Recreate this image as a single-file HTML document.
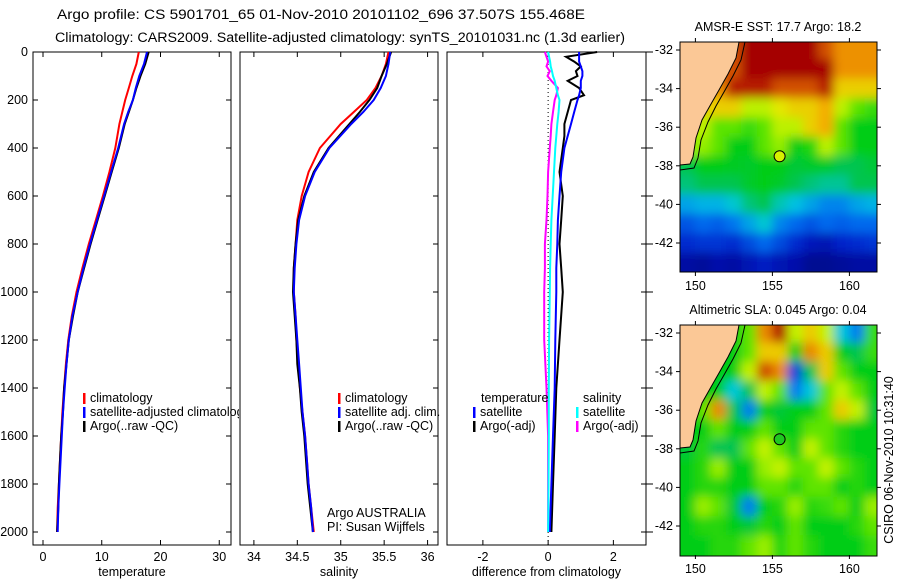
<!DOCTYPE html>
<html><head><meta charset="utf-8"><style>
body{margin:0;background:#fff;}
svg{display:block;font-family:"Liberation Sans",sans-serif;}
</style></head><body>
<svg id="c" width="900" height="580" viewBox="0 0 900 580" xmlns="http://www.w3.org/2000/svg">
<defs>
<clipPath id="m1c"><rect x="680" y="42" width="197" height="230"/></clipPath>
<clipPath id="m2c"><rect x="680" y="325" width="197" height="231"/></clipPath>
<clipPath id="p1c"><rect x="0" y="0" width="239" height="580"/></clipPath>
<filter id="bl" x="-5%" y="-5%" width="110%" height="110%"><feGaussianBlur stdDeviation="5"/></filter>
</defs>
<text x="321" y="19" text-anchor="middle" font-size="13.5" textLength="528" lengthAdjust="spacingAndGlyphs">Argo profile: CS 5901701_65 01-Nov-2010 20101102_696 37.507S 155.468E</text>
<text x="340" y="42" text-anchor="middle" font-size="13.5" textLength="570" lengthAdjust="spacingAndGlyphs">Climatology: CARS2009. Satellite-adjusted climatology: synTS_20101031.nc (1.3d earlier)</text>
<g id="g"></g>
</svg>
<script>
// ---- profile data ----
const pres = [0,50,100,150,200,250,300,400,500,600,700,800,900,1000,1100,1200,1300,1400,1500,1600,1700,1800,1900,2000];
const tempClim = [16.3,15.9,15.2,14.6,14.0,13.5,13.0,12.3,11.3,10.2,9.0,7.8,6.7,5.7,4.9,4.3,3.9,3.6,3.3,3.1,2.9,2.7,2.5,2.4];
const tempSat  = [17.7,17.2,16.4,15.8,15.3,14.5,13.8,12.8,11.6,10.4,9.2,8.0,6.9,5.9,5.0,4.4,4.0,3.7,3.4,3.2,3.0,2.8,2.6,2.5];
const tempArgo = [18.0,17.4,16.6,15.9,15.3,14.6,13.9,12.9,11.7,10.5,9.3,8.1,7.0,5.9,5.1,4.4,4.0,3.6,3.4,3.1,2.9,2.7,2.6,2.4];
const salClim = [35.55,35.52,35.47,35.40,35.30,35.15,35.0,34.76,34.63,34.55,34.50,34.48,34.46,34.46,34.48,34.49,34.51,34.53,34.56,34.59,34.61,34.63,34.66,34.69];
const salSat  = [35.57,35.55,35.52,35.46,35.38,35.26,35.12,34.87,34.70,34.59,34.52,34.49,34.47,34.46,34.48,34.50,34.52,34.54,34.56,34.59,34.61,34.63,34.66,34.68];
const salArgo = [35.58,35.53,35.47,35.42,35.33,35.22,35.10,34.86,34.69,34.58,34.51,34.48,34.46,34.45,34.47,34.49,34.50,34.53,34.55,34.58,34.60,34.62,34.65,34.68];
const dPres = [0,20,40,60,80,100,120,150,180,200,250,300,350,400,500,600,700,800,900,1000,1200,1400,1600,1800,2000];
const diffTSat  = [0.95,0.95,0.95,1.0,1.05,1.05,1.0,1.0,0.95,0.9,0.8,0.7,0.6,0.5,0.4,0.35,0.3,0.28,0.25,0.25,0.22,0.2,0.15,0.1,0.05];
const diffTArgo = [1.5,0.55,0.8,1.0,0.85,0.9,0.6,0.95,1.1,0.7,0.6,0.5,0.5,0.45,0.35,0.45,0.4,0.35,0.4,0.45,0.35,0.25,0.2,0.15,0.1];
const diffSSat  = [0,0.03,0.06,0.08,0.12,0.15,0.2,0.25,0.3,0.35,0.32,0.28,0.25,0.22,0.18,0.14,0.1,0.08,0.06,0.05,0.03,0.02,0.02,0.01,0.0];
const diffSArgo = [-0.1,-0.05,0.0,-0.05,0.05,-0.02,0.1,0.3,0.25,0.2,0.15,0.1,0.08,0.05,0.0,-0.02,-0.05,-0.1,-0.1,-0.12,-0.12,-0.05,0.0,0.0,0.0];
const presTicks = [0,200,400,600,800,1000,1200,1400,1600,1800,2000];
const tempTicks = [0,10,20,30];
const salTicks = [34,34.5,35,35.5,36];
const salTickLabels = ["34","34.5","35","35.5","36"];
const diffTicks = [-2,0,2];
// ---- map data (rows lat -32..-43, cols lon 149.5..161.5) ----
const sstGrid = [
[19,19,19,19,20,20,20,20,20,19,18.5,18.5,18.5],
[19,19,19,19,20,20,20,20,20,20,18.5,18.5,18.5],
[18.5,18.5,18.5,19.5,19.5,19.5,19,19,19,19.5,18,18,18],
[18,18,18,18,17.5,17.5,17.8,18,18,18.3,17.5,17,16.8],
[17.5,17.5,17,17,16.8,17,17.5,17.5,18,18.3,17,16.5,16.5],
[17.3,17.3,17,16.5,16.5,17,17.3,16.5,16.7,17.5,17,16.5,16.5],
[16,16.5,16.5,16.4,16.3,16.5,16.5,16.2,16.3,16.3,16,16,16.2],
[15.8,16,16,16,16.3,16.5,16.3,16,15.8,15.7,15.7,16,16],
[15.2,15.3,15.3,15.5,15.8,16,15.6,15.4,15.2,15,15,15.2,15.3],
[14.6,14.8,14.7,14.9,15.2,15.5,15,14.8,14.6,14.8,14.7,14.8,14.8],
[14.2,14.3,14.3,14.2,14.5,14.8,14.5,14.2,13.9,13.8,14.1,14.2,14.3],
[13.6,13.5,13.7,13.6,13.8,14,13.8,13.7,13.4,13.4,13.5,13.6,13.6]];
const slaGrid = [
[0,0,0,0,0.05,0.2,0.3,0.1,0.15,0.1,-0.1,-0.15,0.03],
[0,0,0,0,0.05,0.15,0.15,0.0,0.2,0.15,0,-0.05,0.03],
[0,0,0,0,0.1,0.25,0.2,-0.2,-0.05,0.15,0.05,0,0],
[0,0,0,-0.1,-0.05,0.1,0.05,-0.15,-0.1,0.05,0.1,0.05,0],
[0,0.05,0.2,-0.05,-0.15,0,-0.03,0,0,0.05,0.15,0.1,-0.03],
[0,0,0.05,0,0,0.05,0,0,0.05,0.05,0.02,0,0],
[-0.03,0.02,-0.05,-0.05,0.05,0.1,0.05,0,0.1,0.05,0.02,0,0],
[0,0.02,0.08,0,0,0.08,0.1,0.05,0.05,0.1,0.05,0.02,0],
[0,0.02,0.02,0,0,0.05,0.05,0.02,0.05,0.05,0,0.02,0],
[0,0.08,0.05,-0.03,-0.15,0,0.02,0.08,0.02,0.03,0.05,0,0.08],
[0,0.02,0.02,0,-0.03,0.02,0,0.05,0,0,0,0.02,0.05],
[0,0,0.02,0.02,0.05,0.08,0.02,0.05,0.02,0,0,0,0.03]];
const mapLats = [-32,-34,-36,-38,-40,-42];
const mapLons = [150,155,160];
const argoLon = 155.468, argoLat = -37.507;

const NS="http://www.w3.org/2000/svg";
const G=document.getElementById('g');
function el(t,a,p){const e=document.createElementNS(NS,t);for(const k in a)e.setAttribute(k,a[k]);(p||G).appendChild(e);return e;}
function txt(x,y,s,a,p){const e=el('text',Object.assign({x:x,y:y,'font-size':12.5},a||{}),p);e.textContent=s;return e;}
const yP=p=>52+p*0.24;
const panels=[{x0:33,x1:231,lo:-1.7,hi:32},{x0:240,x1:438,lo:33.84,hi:36.12},{x0:447,x1:646,lo:-3.1,hi:3.0}];
function xf(i,v){const q=panels[i];return q.x0+(v-q.lo)/(q.hi-q.lo)*(q.x1-q.x0);}
const names=['temperature-panel','salinity-panel','difference-panel'];
panels.forEach((q,i)=>{
  const r=el('rect',{x:q.x0,y:52,width:q.x1-q.x0,height:493,fill:'#fff',stroke:'#000','stroke-width':1});
  
  
  presTicks.forEach(p=>{el('line',{x1:q.x1,x2:q.x1-5,y1:yP(p),y2:yP(p),stroke:'#000'});});
});
presTicks.forEach(p=>{
  const t=txt(28,yP(p)+4,String(p),{'text-anchor':'end'});
  
  
  el('line',{x1:33,x2:38,y1:yP(p),y2:yP(p),stroke:'#000'});
  el('line',{x1:646,x2:653,y1:yP(p),y2:yP(p),stroke:'#000'});
});
function xticks(i,vals,labs){vals.forEach((v,k)=>{const x=xf(i,v);
  el('line',{x1:x,x2:x,y1:545,y2:540,stroke:'#000'});el('line',{x1:x,x2:x,y1:52,y2:57,stroke:'#000'});
  const t=txt(x,561,labs?labs[k]:String(v),{'text-anchor':'middle'});
  
  });}
xticks(0,tempTicks);xticks(1,salTicks,salTickLabels);xticks(2,diffTicks);
[['temperature',0],['salinity',1],['difference from climatology',2]].forEach(([s,i])=>{
  const t=txt((panels[i].x0+panels[i].x1)/2,576,s,{'text-anchor':'middle'});
  
  });
function line(i,P,V,col,w,name){
  const d=P.map((p,k)=>(k?'L':'M')+xf(i,V[k]).toFixed(1)+','+yP(p).toFixed(1)).join('');
  const e=el('path',{d:d,fill:'none',stroke:col,'stroke-width':w});
  
  }
el('line',{x1:xf(2,0),x2:xf(2,0),y1:52,y2:545,stroke:'#000','stroke-dasharray':'1 3'});
line(0,pres,tempClim,'#f00',2,'temp-climatology-line');
line(0,pres,tempArgo,'#000',2,'temp-argo-line');
line(0,pres,tempSat,'#00f',2,'temp-satellite-line');
line(1,pres,salClim,'#f00',2,'sal-climatology-line');
line(1,pres,salArgo,'#000',2,'sal-argo-line');
line(1,pres,salSat,'#00f',2,'sal-satellite-line');
line(2,dPres,diffTArgo,'#000',2,'diff-temp-argo-line');
line(2,dPres,diffTSat,'#00f',2,'diff-temp-satellite-line');
line(2,dPres,diffSArgo,'#f0f',2,'diff-sal-argo-line');
line(2,dPres,diffSSat,'#0ff',2,'diff-sal-satellite-line');
const p1g=el('g',{'clip-path':'url(#p1c)'});
function leg(x,y,col,s,par){el('rect',{x:x,y:y-9,width:2.5,height:11,fill:col},par);
  const t=txt(x+7,y,s,{},par);}
leg(83,402,'#f00','climatology',p1g);leg(83,416,'#00f','satellite-adjusted climatology',p1g);leg(83,430,'#000','Argo(..raw -QC)',p1g);
leg(338,402,'#f00','climatology');leg(338,416,'#00f','satellite adj. clim.');leg(338,430,'#000','Argo(..raw -QC)');
txt(481,402,'temperature');
txt(583,402,'salinity');
leg(473,416,'#00f','satellite');leg(473,430,'#000','Argo(-adj)');
leg(576,416,'#0ff','satellite');leg(576,430,'#f0f','Argo(-adj)');
txt(327,517,'Argo AUSTRALIA');
txt(327,531,'PI: Susan Wijffels');
// ---- maps ----
const stops=[[0,[0,0,130]],[0.13,[0,30,200]],[0.25,[0,110,240]],[0.34,[0,200,225]],[0.41,[0,195,90]],[0.5,[0,205,20]],[0.6,[120,235,0]],[0.68,[225,245,0]],[0.78,[245,165,0]],[0.88,[210,80,0]],[1,[165,0,0]]];
function cmap(t){t=Math.max(0,Math.min(1,t));
  for(let i=1;i<stops.length;i++){if(t<=stops[i][0]){const a=stops[i-1],b=stops[i],f=(t-a[0])/(b[0]-a[0]);
    return 'rgb('+a[1].map((v,k)=>Math.round(v+(b[1][k]-v)*f)).join(',')+')';}}
  return 'rgb(165,0,0)';}
function map(top,grid,lo,hi,title,clip,mname,circFill,bg){
  const lx=lon=>680+(lon-149)*15.4, ly=lat=>top+8+(-32-lat)*19.3;
  const g=el('g',{'clip-path':'url(#'+clip+')'});
  
  
  el('rect',{x:670,y:top-10,width:220,height:250,fill:bg},g);
  const hg=el('g',{filter:'url(#bl)'},g);
  grid.forEach((row,r)=>row.forEach((v,c)=>{
    const x=lx(149+c)-0.3-(c==0?10:0), y=ly(-31.5-r)-0.3-(r==0?10:0);
    const w=16+(c==0?10:0)+(c==12?10:0), h=20+(r==0?10:0)+(r==11?10:0);
    const cell=el('rect',{x:x,y:y,width:w,height:h,fill:cmap((v-lo)/(hi-lo))},hg);
    
    }));
  const off=top-42;
  el('polygon',{points:[[680,42],[739,42],[736,58],[728,74],[719,90],[711,104],[702,120],[696,138],[693,157],[690,164],[680,165]].map(p=>p[0]+','+(p[1]+off)).join(' '),fill:'#fbc896',stroke:'#000','stroke-width':1},g);
  el('polyline',{points:[[745,42],[741,60],[733,76],[724,92],[716,106],[708,122],[701,140],[698,158],[694,168],[680,170]].map(p=>p[0]+','+(p[1]+off)).join(' '),fill:'none',stroke:'#000','stroke-width':1},g);
  el('rect',{x:680,y:top,width:197,height:230+(top>100?1:0),fill:'none',stroke:'#000'});
  const c=el('circle',{cx:lx(argoLon),cy:ly(argoLat),r:5.5,fill:circFill,stroke:'#000'});
  
  
  mapLats.forEach(la=>{el('line',{x1:680,x2:676,y1:ly(la),y2:ly(la),stroke:'#000'});el('line',{x1:877,x2:881,y1:ly(la),y2:ly(la),stroke:'#000'});
    const t=txt(673,ly(la)+4,String(la),{'text-anchor':'end'});});
  mapLons.forEach(lo2=>{const b=top+230;el('line',{x1:lx(lo2),x2:lx(lo2),y1:b,y2:b+4,stroke:'#000'});el('line',{x1:lx(lo2),x2:lx(lo2),y1:top,y2:top-4,stroke:'#000'});
    const t=txt(lx(lo2),b+18,String(lo2),{'text-anchor':'middle'});});
  const tt=txt(778,top-11,title,{'text-anchor':'middle'});
}
map(42,sstGrid,13.2,19.8,'AMSR-E SST: 17.7 Argo: 18.2','m1c','sst-map','#d6f000','rgb(0,205,20)');
map(325,slaGrid,-0.32,0.32,'Altimetric SLA: 0.045 Argo: 0.04','m2c','sla-map','#20c820','rgb(0,205,20)');
const cs=txt(0,0,'CSIRO 06-Nov-2010 10:31:40',{'text-anchor':'middle',transform:'translate(893,460) rotate(-90)'});


</script>
</body></html>
